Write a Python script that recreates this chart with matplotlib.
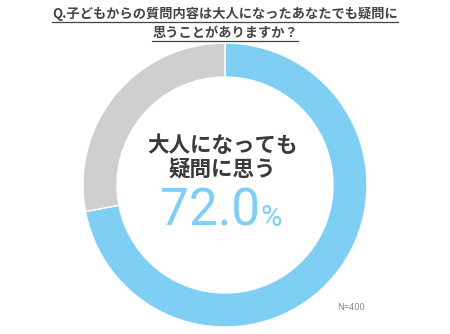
import matplotlib
matplotlib.use("Agg")
import matplotlib.pyplot as plt

labels = ["大人になっても疑問に思う", "その他"]
values = [72.0, 28.0]
colors = ["#7FCEF4", "#D0CECE"]
title_lines = ["Q.子どもからの質問内容は大人になったあなたでも疑問に", "思うことがありますか？"]
center_lines = ["大人になっても", "疑問に思う"]
big_value = "72.0"
note = "N=400"

plt.rcParams['font.family'] = ['Noto Sans CJK JP', 'DejaVu Sans']
W, H = 450, 334
fig = plt.figure(figsize=(W/100, H/100), dpi=100)
ax = fig.add_axes([0, 0, 1, 1])

cx, cy, R = 225, H - 185, 142
ax.pie(values, colors=colors, startangle=90, counterclock=False,
       center=(cx, cy), radius=R, frame=True,
       wedgeprops=dict(width=34, edgecolor='white', linewidth=1))
ax.set_xlim(0, W)
ax.set_ylim(0, H)
ax.set_aspect('equal')
ax.axis('off')

tcol = "#444444"
ys = [H - 14, H - 33]
for t, y in zip(title_lines, ys):
    ax.text(225, y, t, ha='center', va='center', fontsize=9.5, fontweight='bold', color=tcol)
fig.canvas.draw()
r = fig.canvas.get_renderer()
for t in list(ax.texts):
    bb = t.get_window_extent(r)
    ax.plot([bb.x0, bb.x1], [bb.y0 - 0.5, bb.y0 - 0.5], color=tcol, lw=0.9)

ax.text(222, H - 146, center_lines[0], ha='center', va='center', fontsize=15.5, fontweight='bold', color="#3a3a3a")
ax.text(222, H - 169, center_lines[1], ha='center', va='center', fontsize=15.5, fontweight='bold', color="#3a3a3a")
ax.text(210, H - 211, big_value, ha='center', va='center', fontsize=37, fontweight='normal', color=colors[0], family=['Roboto', 'DejaVu Sans'])
ax.text(261, H - 218, "%", ha='left', va='center', fontsize=21, fontweight='normal', color=colors[0], family=['Roboto', 'DejaVu Sans'])
ax.text(351, H - 307, note, ha='center', va='center', fontsize=6.5, color="#888888", family=['Noto Sans', 'DejaVu Sans'])

fig.savefig("out.png", dpi=100)
